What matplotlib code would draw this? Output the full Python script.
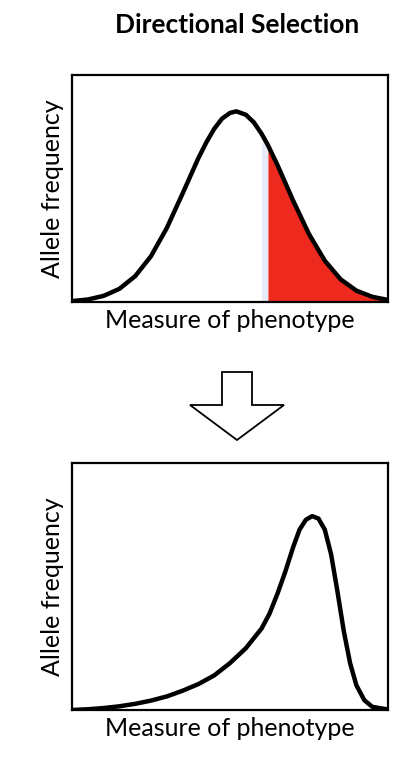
import matplotlib
matplotlib.use("Agg")
import matplotlib.pyplot as plt
from matplotlib.patches import Polygon

plt.rcParams['font.family'] = ['Lato', 'DejaVu Sans']

title = "Directional Selection"
xlabel = "Measure of phenotype"
ylabel = "Allele frequency"

top_x = [0, .05, .10, .15, .20, .25, .30, .35, .40, .425, .45, .475, .50, .52, .55, .575, .60, .62, .65, .70, .75, .80, .85, .90, .95, 1.0]
top_y = [.004, .011, .027, .058, .114, .202, .326, .478, .634, .703, .763, .808, .833, .840, .825, .792, .741, .691, .604, .446, .299, .182, .100, .050, .023, .009]
sel_start = 0.62

bot_x = [0, .05, .1, .15, .2, .25, .3, .35, .4, .45, .5, .55, .6, .625, .65, .675, .7, .72, .74, .76, .78, .80, .82, .84, .86, .88, .9, .925, .95, 1.0]
bot_y = [0.0, .003, .008, .015, .025, .038, .055, .078, .105, .14, .19, .25, .33, .39, .47, .56, .66, .73, .77, .785, .775, .73, .63, .48, .32, .19, .10, .04, .013, .002]

W, H = 414, 758
fig = plt.figure(figsize=(W/100, H/100), dpi=100)

def ax_at(x0, y0, x1, y1):
    return fig.add_axes([x0/W, 1-y1/H, (x1-x0)/W, (y1-y0)/H])

ax1 = ax_at(72, 75, 388, 302)
ax2 = ax_at(72, 463, 388, 710)

for ax in (ax1, ax2):
    ax.set_xlim(0, 1); ax.set_ylim(0, 1)
    ax.set_xticks([]); ax.set_yticks([])
    for s in ax.spines.values():
        s.set_linewidth(1.6)
    ax.set_xlabel(xlabel, fontsize=18, labelpad=5)
    ax.set_ylabel(ylabel, fontsize=18, labelpad=6)

ax1.fill_between(top_x, top_y, 0, where=[sel_start - 0.04 <= x <= sel_start for x in top_x], color='#e6ecf7', lw=0)
ax1.fill_between(top_x, top_y, 0, where=[x >= sel_start for x in top_x], color='#ee2a1e', lw=0)
ax1.plot(top_x, top_y, color='black', lw=3.2, solid_joinstyle='round', solid_capstyle='round')
ax2.plot(bot_x, bot_y, color='black', lw=3.2, solid_joinstyle='round', solid_capstyle='round')

fig.text(237/W, 1-25/H, title, ha='center', va='center', fontsize=19, fontweight='bold')

pts = [(222, 372), (252, 372), (252, 405), (284, 405), (237, 440), (190, 405), (222, 405)]
poly = Polygon([(x/W, 1-y/H) for x, y in pts], closed=True, transform=fig.transFigure,
               facecolor='white', edgecolor='black', lw=1.3)
fig.add_artist(poly)

fig.savefig("out.png", dpi=100)
